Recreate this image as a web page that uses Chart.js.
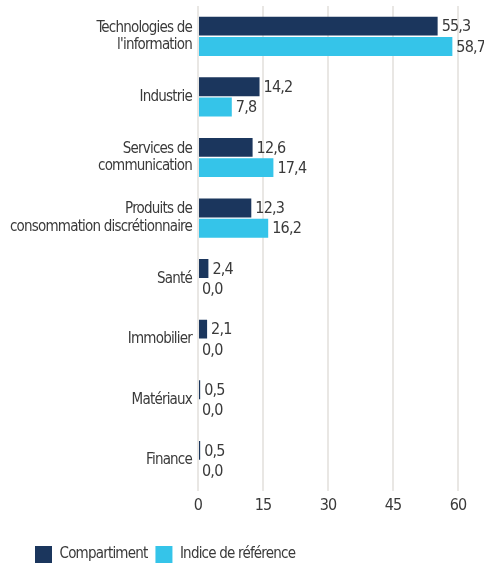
<!DOCTYPE html>
<html>
<head>
<meta charset="utf-8">
<script src="https://cdn.jsdelivr.net/npm/chart.js"></script>
<style>
  html, body { margin: 0; padding: 0; background: #fff; }
  #wrap { width: 484px; height: 565px; }
</style>
</head>
<body>
<div id="wrap"><canvas id="chart"></canvas></div>
<script>
const categories = [
    ['Technologies de', "l'information"],
    'Industrie',
    ['Services de', 'communication'],
    ['Produits de', 'consommation discrétionnaire'],
    'Santé',
    'Immobilier',
    'Matériaux',
    'Finance'
];
const compartiment = [55.3, 14.2, 12.6, 12.3, 2.4, 2.1, 0.5, 0.5];
const indice = [58.7, 7.8, 17.4, 16.2, 0.0, 0.0, 0.0, 0.0];
const xTicks = [0, 15, 30, 45, 60];

const fontFamily = "'DejaVu Sans Condensed', 'Roboto', sans-serif";
const fontSize = 15;
const textColor = '#3a3a3a';
const tightSpacing = '-0.8px';

// squeeze the axis / legend text a bit, the original font is very narrow
const narrowText = {
    id: 'narrowText',
    beforeLayout(chart) { chart.ctx.letterSpacing = tightSpacing; },
    beforeDraw(chart) { chart.ctx.letterSpacing = tightSpacing; },
    afterLayout(chart) {
        // legend sits a bit in from the left edge
        chart.legend.left += 27;
        chart.legend.right += 27;
    }
};

// draws the value next to each bar
const valueLabels = {
    id: 'valueLabels',
    afterDatasetsDraw(chart) {
        const ctx = chart.ctx;
        ctx.save();
        ctx.letterSpacing = '-0.8px';
        ctx.font = '16px ' + fontFamily;
        ctx.fillStyle = textColor;
        ctx.textBaseline = 'middle';
        ctx.textAlign = 'left';
        chart.data.datasets.forEach((ds, i) => {
            chart.getDatasetMeta(i).data.forEach((bar, j) => {
                const txt = ds.data[j].toFixed(1).replace('.', ',');
                ctx.fillText(txt, bar.x + 4, bar.y + 1);
            });
        });
        ctx.restore();
    }
};

new Chart(document.getElementById('chart'), {
    type: 'bar',
    data: {
        labels: categories,
        datasets: [
            {
                label: 'Compartiment',
                data: compartiment,
                backgroundColor: '#1b365d',
                barPercentage: 0.93,
                categoryPercentage: 0.67
            },
            {
                label: 'Indice de référence',
                data: indice,
                backgroundColor: '#35c4e9',
                barPercentage: 0.93,
                categoryPercentage: 0.67
            }
        ]
    },
    options: {
        indexAxis: 'y',
        responsive: true,
        maintainAspectRatio: false,
        animation: false,
        layout: { padding: { top: 6, right: 26, left: 0, bottom: -8 } },
        scales: {
            x: {
                min: 0,
                max: 60,
                afterBuildTicks: axis => { axis.ticks = xTicks.map(v => ({ value: v })); },
                afterFit: axis => { axis.height += 18; },
                grid: { color: '#e9e7e4', lineWidth: 2, drawTicks: false },
                border: { display: false },
                ticks: { color: textColor, font: { family: fontFamily, size: 16 }, padding: 5 }
            },
            y: {
                afterFit: axis => {
                    axis.width = 198;
                    axis.paddingTop = 0;
                    axis.paddingBottom = 0;
                },
                grid: { display: false, drawTicks: false },
                border: { display: false },
                ticks: { color: textColor, font: { family: fontFamily, size: fontSize, lineHeight: 1.15 }, padding: 6 }
            }
        },
        plugins: {
            legend: {
                position: 'bottom',
                align: 'start',
                labels: {
                    color: textColor,
                    font: { family: fontFamily, size: fontSize },
                    boxWidth: 17,
                    boxHeight: 17,
                    padding: 8
                }
            },
            tooltip: { enabled: false }
        }
    },
    plugins: [narrowText, valueLabels]
});
</script>
</body>
</html>
